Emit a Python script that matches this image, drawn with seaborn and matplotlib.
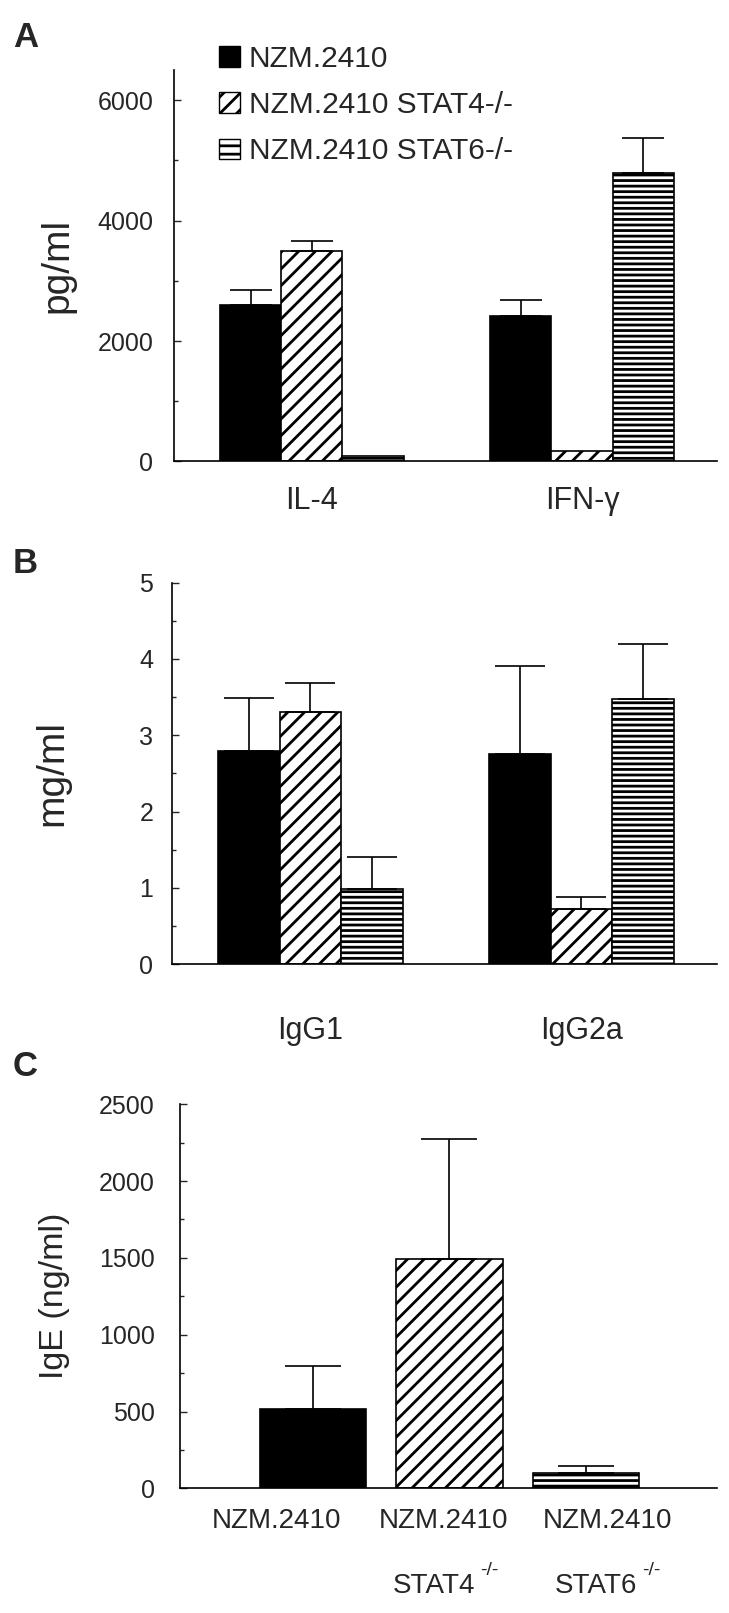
import matplotlib
matplotlib.use("Agg")
import numpy as np
import pandas as pd
import matplotlib.pyplot as plt
import seaborn as sns
from matplotlib.patches import Patch
from matplotlib.ticker import MultipleLocator

# %% data
strains = ["NZM.2410", "NZM.2410 STAT4-/-", "NZM.2410 STAT6-/-"]

cytokines = ["IL-4", "IFN-γ"]
nzm_pg = [2590, 2420]
stat4_pg = [3500, 175]
stat6_pg = [90, 4795]
nzm_pg_err = [265, 265]
stat4_pg_err = [165, 0]
stat6_pg_err = [0, 580]

iggs = ["IgG1", "IgG2a"]
nzm_mg = [2.79, 2.76]
stat4_mg = [3.31, 0.73]
stat6_mg = [0.99, 3.47]
nzm_mg_err = [0.70, 1.15]
stat4_mg_err = [0.37, 0.15]
stat6_mg_err = [0.41, 0.72]

ige_groups = ["NZM.2410", "NZM.2410 STAT4", "NZM.2410 STAT6"]
ige_mean = [515, 1495, 100]
ige_err = [282, 776, 44]

# %% style
sns.set_style("ticks")
plt.rcParams["font.family"] = ["Liberation Sans", "DejaVu Sans"]
plt.rcParams["hatch.linewidth"] = 2.0
plt.rcParams["hatch.color"] = "black"

fills = ["black", "white", "white"]
hatches = ["", "//", "---"]


def long_frame(cats, cols):
    rows = []
    for strain, vals in zip(strains, cols):
        for c, v in zip(cats, vals):
            rows.append({"cat": c, "strain": strain, "value": v})
    return pd.DataFrame(rows)


def add_err(ax, bar, e, capsize):
    if e <= 0:
        return
    x = bar.get_x() + bar.get_width() / 2
    ax.errorbar(x, bar.get_height(), yerr=[[0], [e]], fmt="none",
                ecolor="black", elinewidth=1.2, capsize=capsize, capthick=1.2)


def grouped(ax, cats, means, errs, capsize):
    df = long_frame(cats, means)
    sns.barplot(data=df, x="cat", y="value", hue="strain", order=cats,
                hue_order=strains, palette=fills, saturation=1, width=0.68,
                edgecolor="black", linewidth=1.2, errorbar=None,
                legend=False, ax=ax)
    conts = list(ax.containers)[:3]
    for cont, hatch, err in zip(conts, hatches, errs):
        for bar, e in zip(cont, err):
            bar.set_hatch(hatch)
            add_err(ax, bar, e, capsize)
    ax.set_xlim(-0.51, 1.5)
    ax.set_xlabel("")
    sns.despine(ax=ax)


def style_y(ax, pad):
    ax.tick_params(axis="y", which="major", direction="in", length=5,
                   width=1, labelsize=18, pad=pad)
    ax.tick_params(axis="y", which="minor", direction="in", length=3, width=1)
    for s in ["left", "bottom"]:
        ax.spines[s].set_linewidth(1.2)
        ax.spines[s].set_color("black")


fig = plt.figure(figsize=(7.29, 16.13), dpi=100)

# %% panel A
axA = fig.add_axes([0.2387, 0.7139, 0.7449, 0.2427])
grouped(axA, cytokines, [nzm_pg, stat4_pg, stat6_pg],
        [nzm_pg_err, stat4_pg_err, stat6_pg_err], capsize=15)
axA.set_ylim(0, 6500)
axA.set_yticks([0, 2000, 4000, 6000])
axA.yaxis.set_minor_locator(MultipleLocator(1000))
style_y(axA, 15)
axA.tick_params(axis="x", length=0, labelsize=22, pad=18)
axA.set_ylabel("pg/ml", fontsize=28)
axA.yaxis.set_label_coords(-0.182, 0.5)

handles = [Patch(facecolor=f, edgecolor="black", hatch=h.replace("---", "--"))
           for f, h in zip(fills, hatches)]
fig.legend(handles, strains, loc="upper left", bbox_to_anchor=(0.3004, 0.9721),
           frameon=False, fontsize=21.5, handlelength=0.7, handleheight=0.7,
           handletextpad=0.29, labelspacing=0.61, borderpad=0, borderaxespad=0)

# %% panel B
axB = fig.add_axes([0.236, 0.4022, 0.7476, 0.2366])
grouped(axB, iggs, [nzm_mg, stat4_mg, stat6_mg],
        [nzm_mg_err, stat4_mg_err, stat6_mg_err], capsize=18)
axB.set_ylim(0, 5)
axB.set_yticks([0, 1, 2, 3, 4, 5])
axB.yaxis.set_minor_locator(MultipleLocator(0.5))
style_y(axB, 13.5)
axB.tick_params(axis="x", length=0, labelsize=22, pad=37)
axB.set_ylabel("mg/ml", fontsize=28)
axB.yaxis.set_label_coords(-0.187, 0.5)

# %% panel C
axC = fig.add_axes([0.2469, 0.0773, 0.7366, 0.2381])
dfc = pd.DataFrame({"strain": ige_groups, "value": ige_mean})
sns.barplot(data=dfc, x="strain", y="value", hue="strain", order=ige_groups,
            hue_order=ige_groups, palette=fills, saturation=1, width=0.78,
            edgecolor="black", linewidth=1.2, errorbar=None, legend=False,
            ax=axC)
bars = sorted(axC.patches, key=lambda p: p.get_x())
for bar, hatch, e in zip(bars, hatches, ige_err):
    bar.set_hatch(hatch)
    add_err(axC, bar, e, 20)
axC.set_xlim(-0.974, 2.96)
axC.set_ylim(0, 2500)
axC.set_yticks(np.arange(0, 2501, 500))
axC.yaxis.set_minor_locator(MultipleLocator(250))
style_y(axC, 18)
axC.tick_params(axis="x", length=0, labelbottom=False)
axC.set_xlabel("")
axC.set_ylabel("IgE (ng/ml)", fontsize=24.5)
axC.yaxis.set_label_coords(-0.205, 0.5)
sns.despine(ax=axC)

tr = axC.get_xaxis_transform()
for xpos in [-0.264, 0.96, 2.157]:
    axC.text(xpos, -0.1034, "NZM.2410", transform=tr, ha="center",
             va="baseline", fontsize=20)
for xpos, name in zip([0.586, 1.773], ["STAT4", "STAT6"]):
    t = axC.text(xpos, -0.2727, name, transform=tr, ha="left",
                 va="baseline", fontsize=20)
    axC.annotate("-/-", xy=(1, 1), xycoords=t, xytext=(3.6, 8),
                 textcoords="offset points", ha="left", va="top", fontsize=14)

# %% panel letters
for letter, ybase in [("A", 47), ("B", 573), ("C", 1076)]:
    fig.text(13 / 729, 1 - ybase / 1613, letter, fontsize=25,
             fontweight="bold", ha="left", va="baseline")

fig.savefig("out.png", dpi=100)
